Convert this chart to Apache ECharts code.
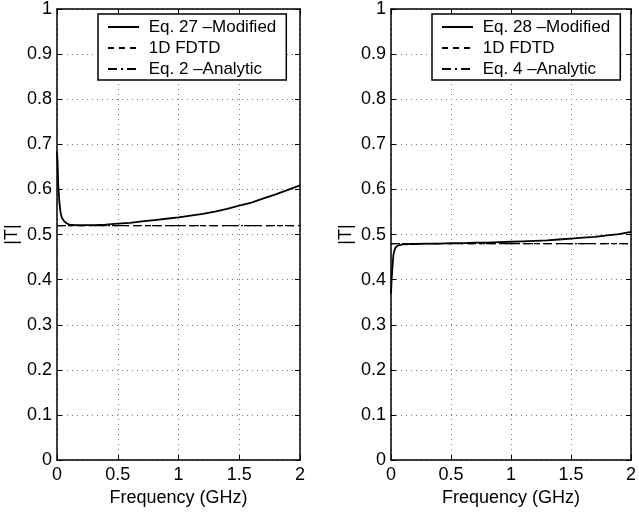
<!DOCTYPE html>
<html>
<head>
<meta charset="utf-8">
<title>|T| vs frequency</title>
<script src="https://cdn.jsdelivr.net/npm/echarts@6/dist/echarts.min.js"></script>
<style>
  html, body { margin: 0; padding: 0; background: #fff; }
  #main { width: 639px; height: 512px; }
</style>
</head>
<body>
<div id="main"></div>
<script>
// frequency samples (GHz)
var freqL = [0, 0.005, 0.01, 0.02, 0.03, 0.04, 0.06, 0.08, 0.1, 0.15, 0.2, 0.3, 0.4, 0.5, 0.6, 0.7, 0.8, 0.9, 1.0,
             1.1, 1.2, 1.3, 1.4, 1.5, 1.6, 1.7, 1.8, 1.9, 2.0];
var modifiedL = [0.684, 0.66, 0.61, 0.57, 0.548, 0.537, 0.529, 0.525, 0.522, 0.521, 0.521, 0.521, 0.522, 0.524, 0.526, 0.529, 0.532, 0.535, 0.538,
                 0.542, 0.546, 0.551, 0.557, 0.564, 0.571, 0.580, 0.589, 0.599, 0.609];
var freqR = [0, 0.005, 0.01, 0.02, 0.03, 0.04, 0.06, 0.08, 0.1, 0.15, 0.2, 0.3, 0.4, 0.5, 0.6, 0.7, 0.8, 0.9, 1.0,
             1.1, 1.2, 1.3, 1.4, 1.5, 1.6, 1.7, 1.8, 1.9, 2.0];
var modifiedR = [0.369, 0.40, 0.42, 0.455, 0.466, 0.472, 0.476, 0.477, 0.478, 0.479, 0.479, 0.480, 0.480, 0.481, 0.481, 0.482, 0.482, 0.483, 0.484,
                 0.485, 0.486, 0.487, 0.489, 0.491, 0.493, 0.495, 0.498, 0.501, 0.506];
var flatFreq = [0, 2];
var fdtdL = [0.52, 0.52];
var analyticL = [0.52, 0.52];
var fdtdR = [0.48, 0.48];
var analyticR = [0.48, 0.48];
var namesL = ['Eq. 27 \u2013Modified', '1D FDTD', 'Eq. 2 \u2013Analytic'];
var namesR = ['Eq. 28 \u2013Modified', '1D FDTD ', 'Eq. 4 \u2013Analytic'];

function pairs(xs, ys) {
  var out = [];
  for (var i = 0; i < xs.length && i < ys.length; i++) out.push([xs[i], ys[i]]);
  return out;
}

var font = 'Liberation Sans, Arial, Helvetica, sans-serif';
var fs = 18;
var grids = [
  { left: 57, top: 8, width: 243, height: 455 },
  { left: 391, top: 8, width: 243, height: 455 }
];
var dotted = { show: true, lineStyle: { color: '#777', type: [1, 4], width: 1 } };
var axLine = { show: true, onZero: false, lineStyle: { color: '#000', width: 1.5 } };
var tick = { show: true, inside: true, length: 5, lineStyle: { color: '#000' } };

var xAxes = [], yAxes = [];
[0, 1].forEach(function (g) {
  xAxes.push({
    type: 'value', gridIndex: g, min: 0, max: 2, interval: 0.5, position: 'bottom',
    name: 'Frequency (GHz)', nameLocation: 'middle', nameGap: 26,
    nameTextStyle: { color: '#000', fontSize: fs, fontFamily: font },
    axisLine: axLine, axisTick: tick,
    axisLabel: { color: '#000', fontSize: fs, fontFamily: font, margin: 6 },
    splitLine: dotted
  });
  xAxes.push({
    type: 'value', gridIndex: g, min: 0, max: 2, interval: 0.5, position: 'top',
    axisLine: axLine, axisTick: tick,
    axisLabel: { show: false }, splitLine: { show: false }
  });
  yAxes.push({
    type: 'value', gridIndex: g, min: 0, max: 1, interval: 0.1, position: 'left',
    name: '|T|', nameLocation: 'middle', nameGap: 36,
    nameTextStyle: { color: '#000', fontSize: fs, fontFamily: font },
    axisLine: axLine, axisTick: tick,
    axisLabel: { color: '#000', fontSize: fs, fontFamily: font, margin: 5 },
    splitLine: dotted
  });
  yAxes.push({
    type: 'value', gridIndex: g, min: 0, max: 1, interval: 0.1, position: 'right',
    axisLine: axLine, axisTick: tick,
    axisLabel: { show: false }, splitLine: { show: false }
  });
});

function line(name, g, data, type, w) {
  return {
    name: name, type: 'line', xAxisIndex: g * 2, yAxisIndex: g * 2,
    data: data, symbol: 'none', smooth: false, silent: true,
    lineStyle: { color: '#000', width: w, type: type },
    itemStyle: { color: '#000' }
  };
}
var dashT = [6, 5];
var dashDotT = [9, 4, 2, 4];

var series = [
  line(namesL[1], 0, pairs(flatFreq, fdtdL), dashT, 1.2),
  line(namesL[2], 0, pairs(flatFreq, analyticL), dashDotT, 1.2),
  line(namesL[0], 0, pairs(freqL, modifiedL), 'solid', 1.8),
  line(namesR[1], 1, pairs(flatFreq, fdtdR), dashT, 1.2),
  line(namesR[2], 1, pairs(flatFreq, analyticR), dashDotT, 1.2),
  line(namesR[0], 1, pairs(freqR, modifiedR), 'solid', 1.8)
];

function legend(names, left) {
  return {
    orient: 'vertical', left: left, top: 14, data: names,
    backgroundColor: '#fff', borderColor: '#000', borderWidth: 1.5,
    padding: [4, 10, 2, 9], itemGap: 3, itemWidth: 31, itemHeight: 18,
    selectedMode: false,
    itemStyle: { opacity: 0 },
    formatter: function (n) { return ' ' + n.trim(); },
    textStyle: { color: '#000', fontSize: 17, fontFamily: font, lineHeight: 18 }
  };
}

var chart = echarts.init(document.getElementById('main'), null, { renderer: 'canvas' });
chart.setOption({
  animation: false,
  backgroundColor: '#fff',
  grid: grids,
  xAxis: xAxes,
  yAxis: yAxes,
  legend: [legend(namesL, 98), legend(namesR, 432)],
  series: series
});
</script>
</body>
</html>
